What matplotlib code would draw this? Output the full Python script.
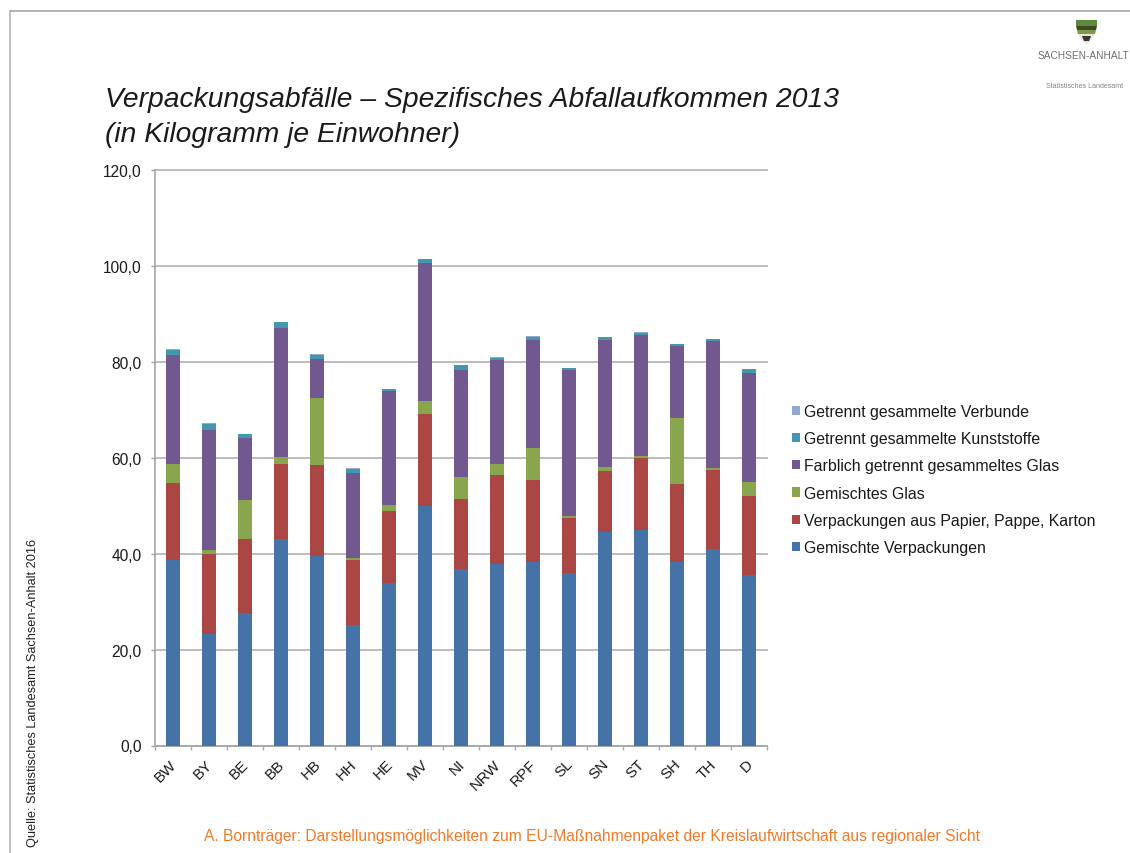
import numpy as np
import matplotlib
matplotlib.use("Agg")
import matplotlib.pyplot as plt
from matplotlib.patches import Polygon

plt.rcParams['font.family'] = ['Liberation Sans', 'DejaVu Sans']

regions = ["BW", "BY", "BE", "BB", "HB", "HH", "HE", "MV", "NI", "NRW", "RPF", "SL", "SN", "ST", "SH", "TH", "D"]
gemischte = [38.7, 23.2, 27.6, 43.1, 39.5, 25.1, 33.8, 49.9, 36.8, 37.8, 38.3, 35.9, 44.5, 45.0, 38.3, 40.9, 35.6]
papier = [16.0, 16.7, 15.4, 15.5, 18.9, 13.5, 15.2, 19.2, 14.6, 18.6, 17.1, 11.5, 12.7, 14.9, 16.2, 16.5, 16.4]
misch_glas = [3.9, 0.8, 8.2, 1.5, 14.0, 0.5, 1.2, 2.7, 4.5, 2.2, 6.7, 0.4, 0.8, 0.5, 13.8, 0.5, 3.0]
farb_glas = [22.8, 25.0, 12.9, 26.9, 8.1, 17.8, 23.7, 28.9, 22.5, 21.8, 22.4, 30.4, 26.5, 25.1, 15.1, 26.4, 22.7]
kunststoffe = [1.1, 1.4, 0.8, 1.3, 1.0, 0.8, 0.4, 0.7, 0.9, 0.5, 0.7, 0.5, 0.6, 0.6, 0.3, 0.4, 0.8]
verbunde = [0.1, 0.1, 0.1, 0.1, 0.1, 0.1, 0.1, 0.1, 0.1, 0.1, 0.1, 0.1, 0.1, 0.1, 0.1, 0.1, 0.1]

series = [
    ("Gemischte Verpackungen", gemischte, "#4572A7"),
    ("Verpackungen aus Papier, Pappe, Karton", papier, "#AA4643"),
    ("Gemischtes Glas", misch_glas, "#89A54E"),
    ("Farblich getrennt gesammeltes Glas", farb_glas, "#71588F"),
    ("Getrennt gesammelte Kunststoffe", kunststoffe, "#4198AF"),
    ("Getrennt gesammelte Verbunde", verbunde, "#93A9CF"),
]
y_ticks = [0, 20, 40, 60, 80, 100, 120]
W, H = 1130, 854

fig = plt.figure(figsize=(W / 100, H / 100), dpi=100, facecolor="white")

def px_axes(x0, y0, x1, y1):
    return fig.add_axes([x0 / W, 1 - y1 / H, (x1 - x0) / W, (y1 - y0) / H])

ax = px_axes(155, 171, 767, 746.5)
x = np.arange(len(regions))
bottom = np.zeros(len(regions))
handles = []
for label, values, color in series:
    bars = ax.bar(x, values, 0.4, bottom=bottom, color=color, label=label, zorder=3)
    bottom += np.array(values)
    handles.append(bars)

ax.set_xlim(-0.5, len(regions) - 0.5)
ax.set_ylim(0, 120)
ax.set_yticks(y_ticks)
ax.set_yticklabels([f"{v:.1f}".replace(".", ",") for v in y_ticks], fontsize=11.2, color="#1a1a1a")
ax.set_xticks(np.arange(-0.5, len(regions)), minor=False)
ax.set_xticklabels([])
ax.tick_params(axis="x", length=3.2, color="#a8a8a8", width=1)
ax.tick_params(axis="y", length=3.2, color="#a8a8a8", width=1, pad=6.3)
ax.grid(axis="y", color="#b8b8b8", lw=1.3, zorder=0)
for line in ax.get_ygridlines():
    line.set_clip_on(False)
ax.set_axisbelow(True)
for side in ("top", "right"):
    ax.spines[side].set_visible(False)
for side in ("left", "bottom"):
    ax.spines[side].set_color("#a8a8a8")
    ax.spines[side].set_linewidth(1.2)

# Rotated category names, anchored under each group
for xi, name in zip(x, regions):
    ax.annotate(name, (xi, 0), xytext=(-2.5, -8), textcoords="offset points",
                rotation=45, rotation_mode="anchor", ha="right", va="top",
                fontsize=10.9, color="#1a1a1a", annotation_clip=False)

leg = fig.legend(handles[::-1], [s[0] for s in series][::-1],
                 loc="center left", bbox_to_anchor=(792 / W, 1 - 480.5 / H), frameon=False,
                 fontsize=11.4, handlelength=0.53, handleheight=0.53, handletextpad=0.21,
                 labelspacing=0.77, labelcolor="#1a1a1a", borderpad=0, borderaxespad=0)

fig.text(105 / W, 1 - 107 / H, "Verpackungsabfälle – Spezifisches Abfallaufkommen 2013",
         fontsize=20.3, style="italic", color="#1a1a1a", va="baseline")
fig.text(105 / W, 1 - 142 / H, "(in Kilogramm je Einwohner)",
         fontsize=20.3, style="italic", color="#1a1a1a", va="baseline")

fig.text(33 / W, 1 - 847 / H, "Quelle: Statistisches Landesamt Sachsen-Anhalt 2016",
         rotation=90, fontsize=9.2, color="#222222", ha="center", va="bottom")
fig.text(592 / W, 1 - 836.5 / H,
         "A. Bornträger: Darstellungsmöglichkeiten zum EU-Maßnahmenpaket der Kreislaufwirtschaft aus regionaler Sicht",
         fontsize=11.23, color="#F07A28", ha="center", va="center")

# Slide frame lines
fig.add_artist(plt.Line2D([9.5 / W, 1], [1 - 11.5 / H, 1 - 11.5 / H], color="#a0a0a0", lw=1.1))
fig.add_artist(plt.Line2D([9.5 / W, 9.5 / W], [0, 1 - 11.5 / H], color="#b0b0b0", lw=1.1))

# Coat of arms and state wordmark
def shape(points, color):
    fig.add_artist(Polygon([(px / W, 1 - py / H) for px, py in points], closed=True,
                           transform=fig.transFigure, facecolor=color, edgecolor="none"))

shape([(1076, 21), (1097, 21), (1097, 27), (1076, 27)], "#5f8a3c")
shape([(1076, 27), (1097, 27), (1096, 31), (1077, 31)], "#3d4a22")
shape([(1077, 31), (1096, 31), (1095, 35), (1078, 35)], "#7f9a45")
shape([(1078, 35), (1095, 35), (1091, 42), (1086.5, 45), (1082, 42)], "#e9e3da")
shape([(1082, 37), (1091, 37), (1089, 42), (1084, 42)], "#3a3430")
fig.text(1083 / W, 1 - 56 / H, "SACHSEN-ANHALT", fontsize=7.3, color="#555555",
         ha="center", va="center", alpha=0.85)
fig.text(1085 / W, 1 - 86 / H, "Statistisches Landesamt", fontsize=5.0, color="#666666",
         ha="center", va="center", alpha=0.8)

fig.savefig("out.png", dpi=100, facecolor="white")
